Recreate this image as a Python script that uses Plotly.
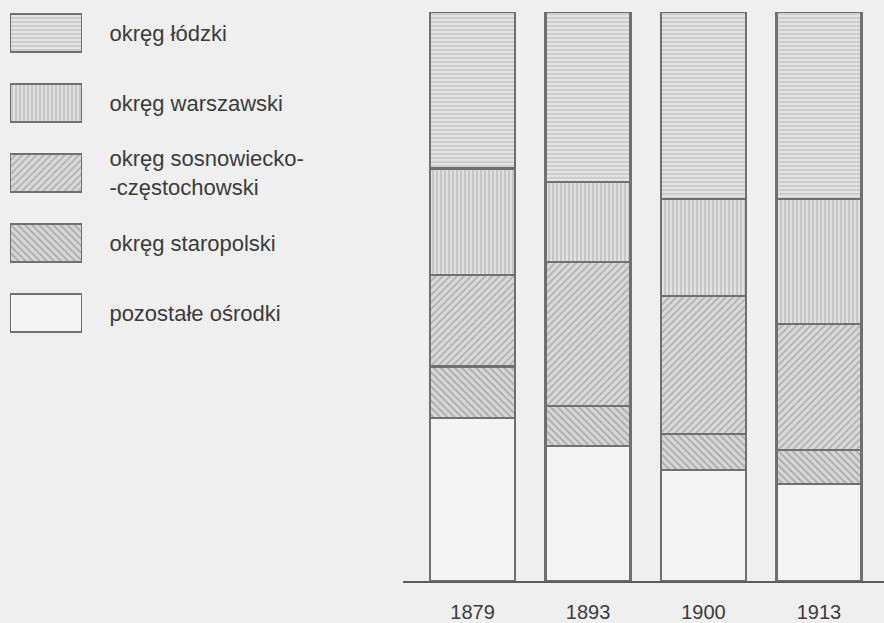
import plotly.graph_objects as go

years = ["1879", "1893", "1900", "1913"]
series = ["okręg łódzki", "okręg warszawski", "okręg sosnowiecko-<br>-częstochowski",
          "okręg staropolski", "pozostałe ośrodki"]
lodzki = [27.5, 29.9, 32.9, 32.9]
warszawski = [18.7, 14.0, 17.0, 21.9]
sosnowiecki = [16.1, 25.4, 24.3, 22.2]
staropolski = [9.1, 7.0, 6.3, 6.0]
pozostale = [28.6, 23.7, 19.5, 17.0]

values = [lodzki, warszawski, sosnowiecki, staropolski, pozostale]
patterns = ["-", "|", "/", "\\", ""]
bgs = ["#e3e3e3", "#e0e0e0", "#d9d9d9", "#d6d6d6", "#f4f4f4"]
fgs = ["#c4c4c4", "#bcbcbc", "#b2b2b2", "#acacac", "#f4f4f4"]
sizes = [4, 4, 5, 5, 5]
outline = "#707070"
font = "Liberation Sans, Arial, sans-serif"

fig = go.Figure()

# stacked bars: bottom first
for i in reversed(range(len(series))):
    fig.add_trace(go.Bar(
        x=years, y=values[i], name=series[i], showlegend=False,
        width=0.736,
        marker=dict(color=bgs[i], line=dict(color=outline, width=2.2),
                    pattern=dict(shape=patterns[i], fgcolor=fgs[i], bgcolor=bgs[i],
                                 size=sizes[i], solidity=0.35, fillmode="replace")),
        xaxis="x", yaxis="y", hoverinfo="skip"))

# legend swatches in a small side panel
for i in range(len(series)):
    fig.add_trace(go.Bar(
        x=[1], y=[series[i]], orientation="h", showlegend=False, width=0.54,
        marker=dict(color=bgs[i], line=dict(color=outline, width=2.2),
                    pattern=dict(shape=patterns[i], fgcolor=fgs[i], bgcolor=bgs[i],
                                 size=sizes[i], solidity=0.35, fillmode="replace")),
        xaxis="x2", yaxis="y2", hoverinfo="skip"))

fig.update_layout(
    width=884, height=623,
    margin=dict(l=0, r=0, t=12, b=40),
    paper_bgcolor="#efefef", plot_bgcolor="rgba(0,0,0,0)",
    barmode="stack",
    font=dict(family=font, size=20, color="#3c3c3c"),
    xaxis=dict(domain=[403 / 884, 1], range=[-0.602, 3.563], type="category",
               showline=True, linecolor="#5c5c5c", linewidth=2,
               ticks="outside", ticklen=12, tickcolor="rgba(0,0,0,0)",
               showgrid=False, zeroline=False, fixedrange=True),
    yaxis=dict(range=[0, 100], visible=False, fixedrange=True),
    xaxis2=dict(domain=[10 / 884, 82 / 884], range=[0, 1], anchor="y2",
                visible=False, fixedrange=True),
    yaxis2=dict(domain=[(583 - 349) / 571, 1], range=[4.498, -0.299], anchor="x2",
                type="category", categoryorder="array", categoryarray=series,
                side="right", showline=False, showgrid=False, zeroline=False,
                ticks="outside", ticklen=22, tickcolor="rgba(0,0,0,0)",
                tickfont=dict(size=22), fixedrange=True),
)

fig.write_html(
    "out.html",
    config={"displayModeBar": False},
    post_script="document.body.style.margin='0';document.body.style.overflow='hidden';"
                "document.body.style.background='#efefef';",
)
